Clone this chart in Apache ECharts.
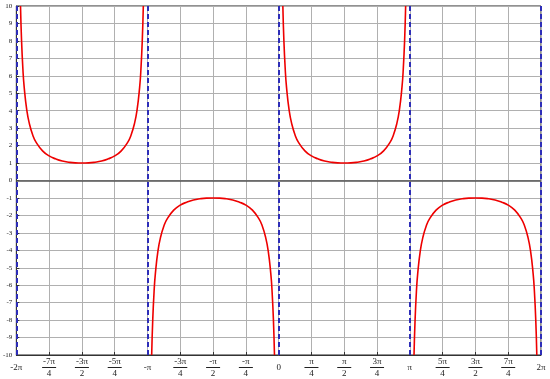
<!DOCTYPE html>
<html>
<head>
<meta charset="utf-8">
<style>html,body{margin:0;padding:0;background:#fff}#c{width:550px;height:379px}</style>
<script src="https://cdn.jsdelivr.net/npm/echarts@6/dist/echarts.min.js"></script>
</head>
<body>
<div id="c"></div>
<script>
// x positions in units of pi, offsets within one branch
var branchOffsets = [0.0319,0.04,0.05,0.06,0.08,0.10,0.125,0.15,0.2,0.25,0.3,0.35,0.4,0.45,0.5,0.55,0.6,0.65,0.7,0.75,0.8,0.85,0.875,0.9,0.92,0.94,0.95,0.96,0.9681];
// y values, per branch
var branchA = [10,7.98,6.39,5.34,4.02,3.24,2.61,2.20,1.70,1.41,1.24,1.12,1.05,1.01,1.00,1.01,1.05,1.12,1.24,1.41,1.70,2.20,2.61,3.24,4.02,5.34,6.39,7.98,10]; // (-2pi,-pi)
var branchB = [-10,-7.98,-6.39,-5.34,-4.02,-3.24,-2.61,-2.20,-1.70,-1.41,-1.24,-1.12,-1.05,-1.01,-1.00,-1.01,-1.05,-1.12,-1.24,-1.41,-1.70,-2.20,-2.61,-3.24,-4.02,-5.34,-6.39,-7.98,-10]; // (-pi,0)
var branchC = [10,7.98,6.39,5.34,4.02,3.24,2.61,2.20,1.70,1.41,1.24,1.12,1.05,1.01,1.00,1.01,1.05,1.12,1.24,1.41,1.70,2.20,2.61,3.24,4.02,5.34,6.39,7.98,10]; // (0,pi)
var branchD = [-10,-7.98,-6.39,-5.34,-4.02,-3.24,-2.61,-2.20,-1.70,-1.41,-1.24,-1.12,-1.05,-1.01,-1.00,-1.01,-1.05,-1.12,-1.24,-1.41,-1.70,-2.20,-2.61,-3.24,-4.02,-5.34,-6.39,-7.98,-10]; // (pi,2pi)
var branchStarts = [-2,-1,0,1];
var asymptotes = [-2,-1,0,1,2];
var tickNumerators = ['-2π','-7π','-3π','-5π','-π','-3π','-π','-π','0','π','π','3π','π','5π','3π','7π','2π'];
var tickDenominators = ['','4','2','4','','4','2','4','','4','2','4','','4','2','4',''];

function pairs(start, ys){
  return branchOffsets.map(function(o,i){ return [start+o, ys[i]]; });
}
var branches = [branchA, branchB, branchC, branchD];
var series = branches.map(function(ys, k){
  return {
    type:'line', data: pairs(branchStarts[k], ys), smooth:true, showSymbol:false,
    lineStyle:{color:'#ee0000', width:1.6}, z:3, silent:true
  };
});
series.push({
  type:'line', data:[], silent:true,
  markLine:{
    silent:true, symbol:['none','none'], label:{show:false}, animation:false,
    data:[{yAxis:0, lineStyle:{color:'#555', width:1.5, type:'solid'}}]
  }
});
series.push({
  type:'line', data:[], silent:true, z:4,
  markLine:{
    silent:true, symbol:['none','none'], label:{show:false}, animation:false,
    lineStyle:{color:'#2d2db8', width:2, type:[5,3]},
    data: asymptotes.map(function(a){ return {xAxis:a}; })
  }
});

var font = 'Liberation Serif';
var chart = echarts.init(document.getElementById('c'));
chart.setOption({
  animation:false,
  grid:{left:16, right:9, top:6, bottom:24, show:true, borderColor:'#222', borderWidth:1},
  xAxis:{
    type:'value', min:-2, max:2, interval:0.25,
    axisLine:{onZero:false, lineStyle:{color:'#333', width:1}},
    axisTick:{inside:true, length:3, lineStyle:{color:'#333'}},
    splitLine:{lineStyle:{color:'#b0b0b0', width:1}},
    axisLabel:{
      margin:2, color:'#222', fontFamily:font, fontSize:9,
      formatter:function(v){
        var i = Math.round((v+2)*4);
        var n = tickNumerators[i], d = tickDenominators[i];
        if(!d) return '{s|'+n+'}';
        return '{n|'+n+'}\n{l|}\n{d|'+d+'}';
      },
      rich:{
        s:{fontFamily:font, fontSize:9, lineHeight:22, color:'#222'},
        n:{fontFamily:font, fontSize:9, lineHeight:9, color:'#222', align:'center'},
        l:{width:14, height:1, lineHeight:3, backgroundColor:'#222', align:'center'},
        d:{fontFamily:font, fontSize:9, lineHeight:10, color:'#222', align:'center'}
      }
    }
  },
  yAxis:{
    type:'value', min:-10, max:10, interval:1,
    axisLine:{onZero:false, lineStyle:{color:'#333', width:1}},
    axisTick:{inside:true, length:3, lineStyle:{color:'#333'}},
    splitLine:{lineStyle:{color:'#b0b0b0', width:1}},
    axisLabel:{margin:4, color:'#222', fontFamily:font, fontSize:7}
  },
  series: series
});
</script>
</body>
</html>
